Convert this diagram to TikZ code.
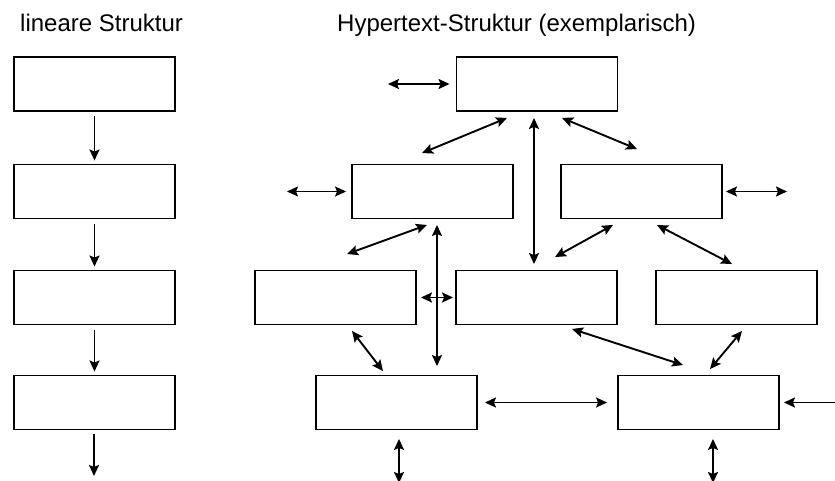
\documentclass[tikz,border=0pt]{standalone}
\usepackage{fontspec}
\setmainfont{Liberation Sans}
\usetikzlibrary{arrows.meta}
\begin{document}
\begin{tikzpicture}[x=1pt,y=-1pt,
  box/.style={draw, line width=1.9pt, rectangle, minimum width=161pt, minimum height=54pt, inner sep=0pt},
  title/.style={anchor=base west, inner sep=0pt, font=\fontsize{24}{28}\selectfont},
  con/.style={line width=1.9pt},
  one/.style={con, -{Stealth[length=11pt,width=10pt,inset=2pt]}},
  dbl/.style={con, {Stealth[length=11pt,width=10pt,inset=2pt]}-{Stealth[length=11pt,width=10pt,inset=2pt]}}]
\useasboundingbox (0,0) rectangle (835,481);
\clip (0,0) rectangle (835,481);
\node[title] (t1) at (20,32) {lineare Struktur};
\node[title] (t2) at (337,32) {Hypertext-Struktur (exemplarisch)};
% linear column
\node[box] (LA) at (94.5,84) {};
\node[box] (LB) at (94.5,191.5) {};
\node[box] (LC) at (94.5,297.5) {};
\node[box] (LD) at (94.5,402.5) {};
\coordinate (lend) at (94,476);
\draw[one, shorten <=4.5pt, shorten >=3pt] (LA) -- (LB);
\draw[one, shorten <=4.5pt, shorten >=3pt] (LB) -- (LC);
\draw[one, shorten <=4.5pt, shorten >=3pt] (LC) -- (LD);
\draw[one] ([shift={(-0.5,4)}]LD.south) -- (lend);
% hypertext
\node[box] (T) at (537,84) {};
\node[box] (L2) at (432.5,191.5) {};
\node[box] (R2) at (641.5,191.5) {};
\node[box] (A3) at (335.5,297.5) {};
\node[box] (B3) at (536.5,297.5) {};
\node[box] (C3) at (736.5,297.5) {};
\node[box] (D4) at (396.5,402.5) {};
\node[box] (E4) at (698.5,402.5) {};
\coordinate (h1) at (388,84);
\coordinate (h5) at (287,191.5);
\coordinate (h6) at (787,191.5);
\coordinate (h15) at (837,402.5);
\coordinate (h16) at (399,483);
\coordinate (h17) at (713,483);
\draw[dbl] (h1) -- ([shift={(-6,0)}]T.west);
\draw[dbl] ([shift={(-30,6)}]T.south) -- ([shift={(-10.5,-10.5)}]L2.north);
\draw[dbl] ([shift={(-3,6)}]T.south) -- ([shift={(-2.5,-5.5)}]B3.north);
\draw[dbl] ([shift={(25,6)}]T.south) -- ([shift={(-4.5,-14.5)}]R2.north);
\draw[dbl] (h5) -- ([shift={(-5,0)}]L2.west);
\draw[dbl] ([shift={(3,0)}]R2.east) -- (h6);
\draw[dbl] ([shift={(-5.5,5.5)}]L2.south) -- ([shift={(11.5,-15.5)}]A3.north);
\draw[dbl] ([shift={(4.5,5.5)}]L2.south) -- ([shift={(40.5,-8.5)}]D4.north);
\draw[dbl] ([shift={(4,0)}]A3.east) -- ([shift={(-2,0)}]B3.west);
\draw[dbl] ([shift={(-28.5,5.5)}]R2.south) -- ([shift={(18.5,-12.5)}]B3.north);
\draw[dbl] ([shift={(15.5,5.5)}]R2.south) -- ([shift={(-4.5,-5.5)}]C3.north);
\draw[dbl] ([shift={(16.5,5.5)}]A3.south) -- ([shift={(-13.5,-3.5)}]D4.north);
\draw[dbl] ([shift={(35.5,3.5)}]B3.south) -- ([shift={(-15.5,-9.5)}]E4.north);
\draw[dbl] ([shift={(5.5,5.5)}]C3.south) -- ([shift={(11.5,-5.5)}]E4.north);
\draw[dbl] ([shift={(7,0)}]D4.east) -- ([shift={(-10,0)}]E4.west);
\draw[one] (h15) -- ([shift={(4,0)}]E4.east);
\draw[dbl] ([shift={(2.5,8.5)}]D4.south) -- (h16);
\draw[dbl] ([shift={(14.5,8.5)}]E4.south) -- (h17);
\end{tikzpicture}
\end{document}
